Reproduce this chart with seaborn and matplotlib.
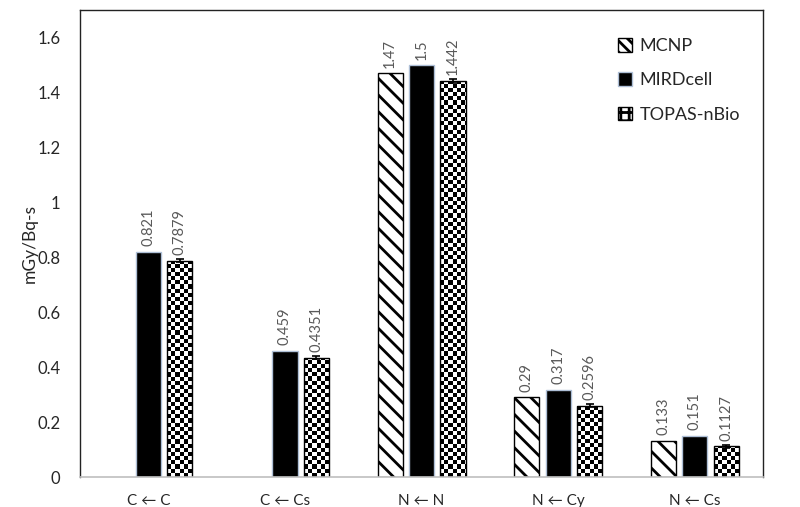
import numpy as np
import pandas as pd
import matplotlib
matplotlib.use("Agg")
import matplotlib.pyplot as plt
import matplotlib.ticker as mticker
from matplotlib.patches import Patch
import seaborn as sns

# ---------------------------------------------------------
# data
# ---------------------------------------------------------
categories = ["C \u2190 C", "C \u2190 Cs", "N \u2190 N", "N \u2190 Cy", "N \u2190 Cs"]
codes = ["MCNP", "MIRDcell", "TOPAS-nBio"]
mcnp = [np.nan, np.nan, 1.47, 0.29, 0.133]
mirdcell = [0.821, 0.459, 1.5, 0.317, 0.151]
topas = [0.7879, 0.4351, 1.442, 0.2596, 0.1127]
topas_err = [0.006, 0.006, 0.008, 0.005, 0.005]

df = pd.DataFrame({
    "target": categories * 3,
    "code": [c for c in codes for _ in categories],
    "dose": mcnp + mirdcell + topas,
})

sns.set_style("white")
plt.rcParams["font.family"] = ["Lato", "DejaVu Sans"]
plt.rcParams["hatch.linewidth"] = 2.0

fig = plt.figure(figsize=(8, 5.07), dpi=100)
ax = fig.add_axes([0.1, 0.059, 0.854, 0.921])

sns.barplot(data=df, x="target", y="dose", hue="code", hue_order=codes,
            order=categories, palette=["white", "black", "white"],
            width=0.69, gap=0.2, edgecolor="black", linewidth=1.0,
            legend=False, ax=ax)

cont_mcnp, cont_mird, cont_topas = ax.containers[:3]
for p in cont_mcnp:
    p.set_hatch("\\\\")
for p in cont_mird:
    p.set_edgecolor("#aebfd6")

# checkerboard fill for TOPAS-nBio bars
cell_x, cell_y = 0.03, 0.0152
for p in cont_topas:
    x0, w, h = p.get_x(), p.get_width(), p.get_height()
    if not np.isfinite(h) or h <= 0:
        continue
    nx = int(np.ceil(w / cell_x))
    ny = int(np.ceil(h / cell_y))
    board = (np.add.outer(np.arange(ny), np.arange(nx)) % 2).astype(float)
    im = ax.imshow(board, cmap="gray", extent=[x0, x0 + nx * cell_x, 0, ny * cell_y],
                   origin="lower", aspect="auto", interpolation="nearest", zorder=p.get_zorder())
    im.set_clip_path(p)
    p.set_zorder(p.get_zorder() + 0.1)
    p.set_facecolor("none")

ax.set_xlim(-0.5, len(categories) - 0.5)
ax.set_ylim(0, 1.7)

# error bars on TOPAS-nBio
xs = [p.get_x() + p.get_width() / 2 for p in cont_topas]
ax.errorbar(xs, topas, yerr=topas_err, fmt="none", ecolor="black",
            elinewidth=1.2, capsize=3, capthick=1.2, zorder=5)

# value labels
for cont in (cont_mcnp, cont_mird, cont_topas):
    vals = cont.datavalues
    labels = ["" if not np.isfinite(v) else f"{v:g}" for v in vals]
    ax.bar_label(cont, labels=labels, rotation=90, padding=4,
                 fontsize=10.5, color="#595959")

ax.yaxis.set_major_locator(mticker.MultipleLocator(0.2))
ax.yaxis.set_major_formatter(mticker.FuncFormatter(lambda v, _: f"{v:g}" if v <= 1.6 else ""))
ax.tick_params(axis="y", length=0, labelsize=12, pad=14)
ax.tick_params(axis="x", length=0, labelsize=11, pad=12)
ax.set_xlabel("")
ax.set_ylabel("mGy/Bq-s", fontsize=12.5)
ax.yaxis.set_label_coords(-0.062, 0.5)

for side in ("left", "right", "top"):
    ax.spines[side].set_color("#222222")
    ax.spines[side].set_linewidth(1.0)
ax.spines["bottom"].set_color("#bfbfbf")
ax.spines["bottom"].set_linewidth(1.2)

handles = [
    Patch(facecolor="white", edgecolor="black", hatch="\\\\\\"),
    Patch(facecolor="black", edgecolor="#aebfd6"),
    Patch(facecolor="white", edgecolor="black", hatch="++"),
]
ax.legend(handles, codes, loc="upper right", bbox_to_anchor=(0.99, 0.975),
          frameon=False, fontsize=13, handlelength=0.8, handleheight=0.8,
          labelspacing=1.0, handletextpad=0.4)

fig.savefig("out.png", dpi=100)
